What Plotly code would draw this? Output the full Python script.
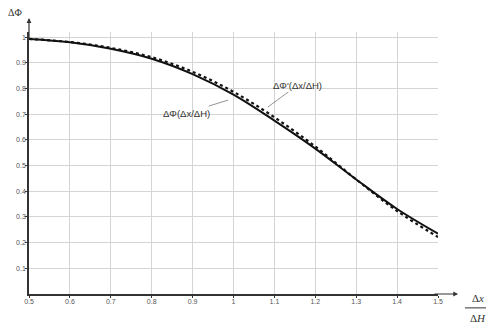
import plotly.graph_objects as go

x_vals = [0.5, 0.6, 0.7, 0.8, 0.9, 1.0, 1.1, 1.2, 1.3, 1.4, 1.5]
phi_solid = [0.993, 0.980, 0.955, 0.916, 0.856, 0.776, 0.675, 0.566, 0.446, 0.331, 0.235]
phi_dotted = [0.993, 0.981, 0.958, 0.922, 0.865, 0.787, 0.688, 0.574, 0.446, 0.323, 0.222]

x_ticks = [0.5, 0.6, 0.7, 0.8, 0.9, 1.0, 1.1, 1.2, 1.3, 1.4, 1.5]
x_tick_text = ["0.5", "0.6", "0.7", "0.8", "0.9", "1", "1.1", "1.2", "1.3", "1.4", "1.5"]
y_ticks = [0.1, 0.2, 0.3, 0.4, 0.5, 0.6, 0.7, 0.8, 0.9, 1.0]
y_tick_text = ["0.1", "0.2", "0.3", "0.4", "0.5", "0.6", "0.7", "0.8", "0.9", "1"]

fig = go.Figure()
fig.add_trace(go.Scatter(x=x_vals, y=phi_dotted, mode="lines", line_shape="spline",
                         line=dict(color="#111111", width=2.2, dash="dot"), showlegend=False))
fig.add_trace(go.Scatter(x=x_vals, y=phi_solid, mode="lines", line_shape="spline",
                         line=dict(color="#111111", width=2), showlegend=False))

tick_font = dict(family="Liberation Sans", size=7, color="#555555")
fig.update_xaxes(range=[0.5, 1.5], tickvals=x_ticks, ticktext=x_tick_text,
                 showgrid=True, gridcolor="#d4d4d4", gridwidth=1,
                 showline=True, linecolor="#333333", linewidth=1.5,
                 ticks="outside", ticklen=2, tickcolor="#333333", tickfont=tick_font,
                 ticklabelstandoff=-2,
                 zeroline=False, automargin=False)
fig.update_yaxes(range=[0, 1.02], tickvals=y_ticks, ticktext=y_tick_text,
                 showgrid=True, gridcolor="#d4d4d4", gridwidth=1,
                 showline=True, linecolor="#333333", linewidth=1.5,
                 ticks="outside", ticklen=2, tickcolor="#333333", tickfont=tick_font,
                 ticklabelstandoff=-2,
                 zeroline=False, automargin=False)

ann_font = dict(family="Liberation Sans", size=9.5, color="#333333")
title_font = dict(family="Liberation Serif", size=11, color="#333333")
annotations = [
    dict(x=1.084, y=0.728, xref="x", yref="y", text="ΔΦ'(Δx/ΔH)", showarrow=True,
         arrowhead=0, arrowwidth=0.8, arrowcolor="#777777", ax=30, ay=-22, font=ann_font),
    dict(x=0.987, y=0.755, xref="x", yref="y", text="ΔΦ(Δx/ΔH)", showarrow=True,
         arrowhead=0, arrowwidth=0.8, arrowcolor="#777777", ax=-42, ay=13, font=ann_font),
    # axis arrows
    dict(x=0, y=1.053, xref="paper", yref="paper", text="", showarrow=True,
         arrowhead=2, arrowsize=0.8, arrowwidth=1.2, arrowcolor="#333333", ax=0, ay=22),
    dict(x=1.049, y=0, xref="paper", yref="paper", text="", showarrow=True,
         arrowhead=2, arrowsize=0.8, arrowwidth=1.2, arrowcolor="#333333", ax=-25, ay=0),
    # axis titles
    dict(x=-0.034, y=1.076, xref="paper", yref="paper", text="ΔΦ", showarrow=False,
         xanchor="center", yanchor="middle",
         font=dict(family="Liberation Serif", size=10, color="#333333")),
    dict(x=1.098, y=-0.016, xref="paper", yref="paper", text="Δ<i>x</i>", showarrow=False,
         xanchor="center", yanchor="middle", font=title_font),
    dict(x=1.098, y=-0.092, xref="paper", yref="paper", text="Δ<i>H</i>", showarrow=False,
         xanchor="center", yanchor="middle", font=title_font),
]

# page body has an 8px default margin; compensate so the plot area lands where the reference has it
fig.update_layout(
    width=494, height=329,
    margin=dict(l=21, r=64, t=24, b=43),
    plot_bgcolor="white", paper_bgcolor="white",
    annotations=annotations,
    shapes=[dict(type="line", xref="paper", yref="paper", x0=1.066, x1=1.132,
                 y0=-0.053, y1=-0.053, line=dict(color="#333333", width=1))],
)

fig.write_html("out.html")
